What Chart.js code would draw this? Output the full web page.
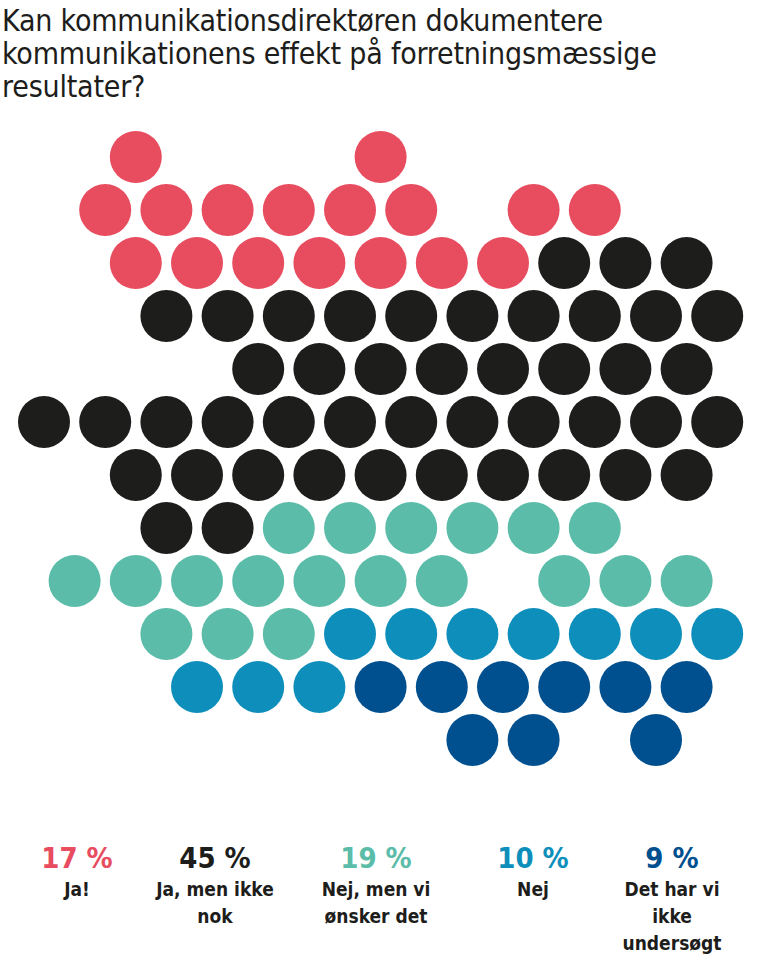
<!DOCTYPE html>
<html><head><meta charset="utf-8">
<script src="https://cdn.jsdelivr.net/npm/chart.js@4"></script>
<style>
body{margin:0;width:768px;height:954px;background:#fff;font-family:"Liberation Sans Narrow","DejaVu Sans Condensed",sans-serif;position:relative;overflow:hidden}
h1{position:absolute;left:2px;top:4px;margin:0;font-weight:normal;font-size:30px;line-height:33px;color:#1d1d1b;font-family:"DejaVu Sans Condensed",sans-serif;letter-spacing:-0.2px}
#wrap{position:absolute;left:-26px;top:94px;width:820px;height:712px}
.leg{position:absolute;top:840px;width:150px;text-align:center;transform:translateX(-50%);font-family:"DejaVu Sans Condensed",sans-serif}
.leg b{display:block;font-size:29px;line-height:36px}
.leg span{display:block;font-size:19px;line-height:27px;font-weight:bold;color:#1d1d1b}
</style></head><body>
<h1>Kan kommunikationsdirektøren dokumentere<br>kommunikationens effekt på forretningsmæssige<br>resultater?</h1>
<div id="wrap"><canvas id="c"></canvas></div>
<div id="legend"></div>
<script>
const labels = ['Ja!', 'Ja, men ikke nok', 'Nej, men vi ønsker det', 'Nej', 'Det har vi ikke undersøgt'];
const legendLines = [['Ja!'], ['Ja, men ikke', 'nok'], ['Nej, men vi', 'ønsker det'], ['Nej'], ['Det har vi', 'ikke', 'undersøgt']];
const percents = [17, 45, 19, 10, 9];
const colors = ['#e84c5f', '#1d1d1b', '#5bbda9', '#0e8fbb', '#00508f'];
// dots per group: [row, column] on a staggered grid
const dotsJa = [[0,3],[0,11],[1,2],[1,4],[1,6],[1,8],[1,10],[1,12],[1,16],[1,18],[2,3],[2,5],[2,7],[2,9],[2,11],[2,13],[2,15]];
const dotsJaMen = [[2,17],[2,19],[2,21],
  [3,4],[3,6],[3,8],[3,10],[3,12],[3,14],[3,16],[3,18],[3,20],[3,22],
  [4,7],[4,9],[4,11],[4,13],[4,15],[4,17],[4,19],[4,21],
  [5,0],[5,2],[5,4],[5,6],[5,8],[5,10],[5,12],[5,14],[5,16],[5,18],[5,20],[5,22],
  [6,3],[6,5],[6,7],[6,9],[6,11],[6,13],[6,15],[6,17],[6,19],[6,21],
  [7,4],[7,6]];
const dotsNejMen = [[7,8],[7,10],[7,12],[7,14],[7,16],[7,18],
  [8,1],[8,3],[8,5],[8,7],[8,9],[8,11],[8,13],[8,17],[8,19],[8,21],
  [9,4],[9,6],[9,8]];
const dotsNej = [[9,10],[9,12],[9,14],[9,16],[9,18],[9,20],[9,22],[10,5],[10,7],[10,9]];
const dotsIkke = [[10,11],[10,13],[10,15],[10,17],[10,19],[10,21],[11,14],[11,16],[11,20]];
const groups = [dotsJa, dotsJaMen, dotsNejMen, dotsNej, dotsIkke];

new Chart(document.getElementById('c'), {
  type: 'scatter',
  data: {
    datasets: groups.map((g, i) => ({
      label: labels[i],
      data: g.map(([r, c]) => ({x: c, y: r})),
      backgroundColor: colors[i],
      borderWidth: 0,
      pointRadius: 26,
      pointHoverRadius: 26
    }))
  },
  options: {
    responsive: true, maintainAspectRatio: false, animation: false,
    layout: {padding: 0},
    plugins: {legend: {display: false}, tooltip: {enabled: false}},
    scales: {
      x: {display: false, min: -1.438, max: 23.66},
      y: {display: false, reverse: true, min: -0.698, max: 11.755}
    }
  }
});

const centers = [77, 215, 376, 533, 672];
const leg = document.getElementById('legend');
percents.forEach((p, i) => {
  const d = document.createElement('div');
  d.className = 'leg';
  d.style.left = centers[i] + 'px';
  d.innerHTML = `<b style="color:${colors[i]}">${p} %</b>` + legendLines[i].map(t => `<span>${t}</span>`).join('');
  leg.appendChild(d);
});
</script>
</body></html>
